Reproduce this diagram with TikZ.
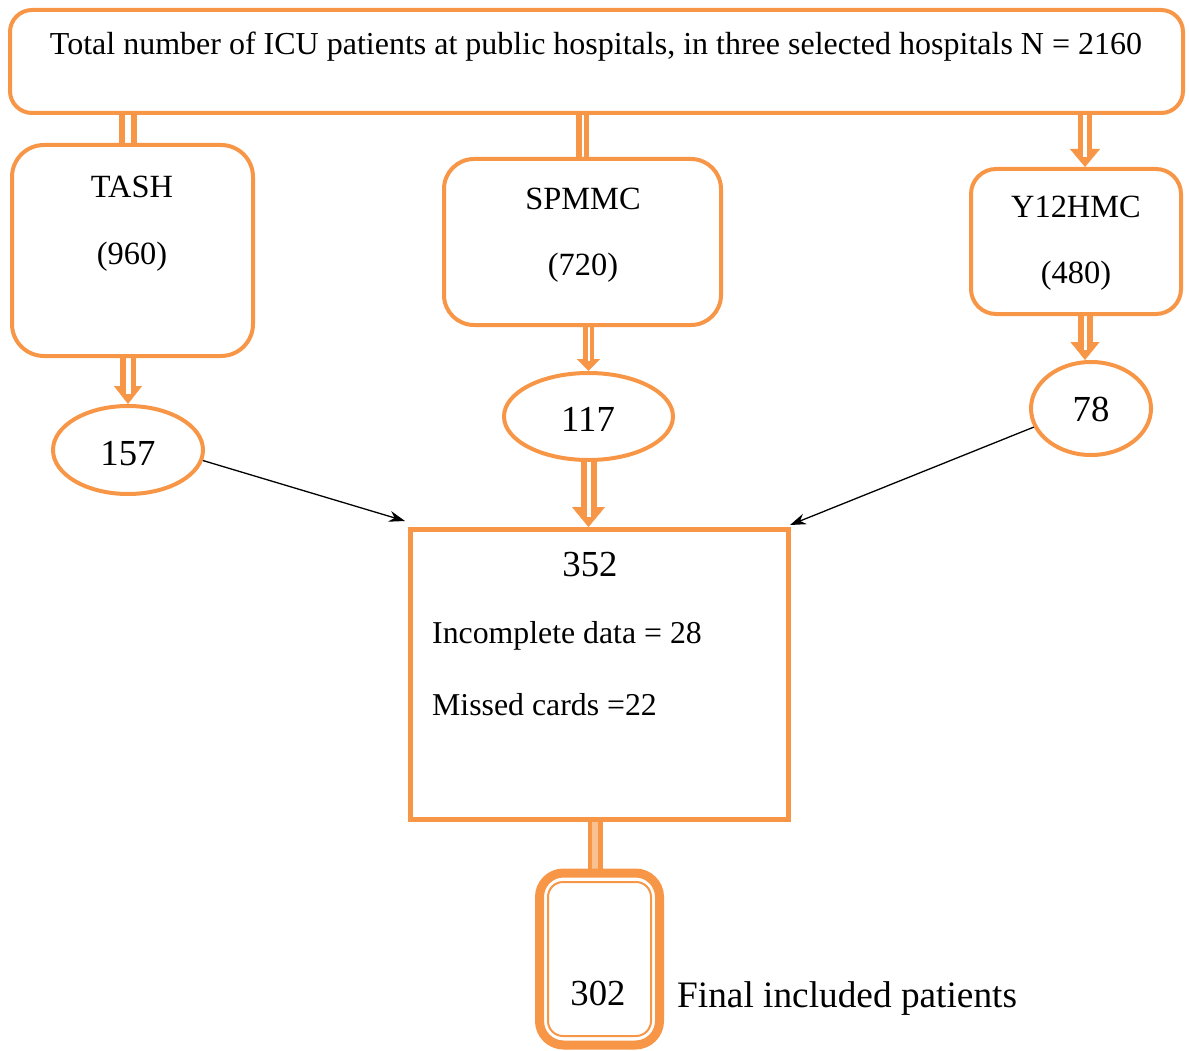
\documentclass[tikz,border=0pt]{standalone}
\usepackage{fontspec}
\setmainfont{Liberation Serif}
\usetikzlibrary{shapes.geometric,arrows.meta,backgrounds,calc}
\definecolor{ora}{HTML}{F79646}
\definecolor{oralight}{HTML}{FAC08F}
\newcommand\fsTop{\fontsize{32}{36}\selectfont}
\newcommand\fsBox{\fontsize{32.4}{36}\selectfont}
\newcommand\fsNum{\fontsize{36.7}{40}\selectfont}
\newcommand\fsNote{\fontsize{31.8}{35}\selectfont}
\newcommand\fsFinal{\fontsize{37.3}{41}\selectfont}
\begin{document}
\begin{tikzpicture}[x=1pt,y=-1pt,
  rbox/.style={draw=ora, line width=4pt, inner sep=0pt},
  oval/.style={ellipse, draw=ora, line width=4pt, inner sep=0pt},
  txt/.style={inner sep=0pt, text=black},
  conn/.style n args={3}{draw=ora, line width=#1pt,
    postaction={draw=#3, line width=#2pt, -}},
  aconn/.style n args={2}{draw=ora, line width=#1pt,
    postaction={draw=white, line width=#2pt, -, shorten >=10pt}},
  hd/.style n args={2}{-{Triangle[length=#1pt,width=#2pt,line width=0.4pt]}},
  thinarrow/.style={draw=black, line width=1.3pt, -{Stealth[length=16pt,width=11pt]}}
]
\useasboundingbox (0,0) rectangle (1189,1051);

% top box
\node[rbox, rounded corners=22pt, minimum width=1173pt, minimum height=103pt] (top) at (596.5,61.5) {};
\node[txt, font=\fsTop] (toptxt) at (596,47) {Total number of ICU patients at public hospitals, in three selected hospitals N = 2160};

% hospital boxes
\node[rbox, rounded corners=32pt, minimum width=241pt, minimum height=211pt] (tash) at (132.5,250.5) {};
\node[txt, font=\fsBox] (tashname) at (132,187) {TASH};
\node[txt, font=\fsBox] (tashn) at (132,257) {(960)};

\node[rbox, rounded corners=30pt, minimum width=277pt, minimum height=166pt] (spmmc) at (582.5,242) {};
\node[txt, font=\fsBox] (spmmcname) at (583,199) {SPMMC};
\node[txt, font=\fsBox] (spmmcn) at (583,268) {(720)};

\node[rbox, rounded corners=25pt, minimum width=210pt, minimum height=145pt] (y12) at (1076,241.5) {};
\node[txt, font=\fsBox] (y12name) at (1076,207) {Y12HMC};
\node[txt, font=\fsBox] (y12n) at (1076,276) {(480)};

% sample ovals
\node[oval, minimum width=150pt, minimum height=88pt] (e157) at (128,450) {};
\node[txt, font=\fsNum] (t157) at (128,454) {157};
\node[oval, minimum width=169pt, minimum height=87pt] (e117) at (588.5,416.5) {};
\node[txt, font=\fsNum] (t117) at (588,419) {117};
\node[oval, minimum width=120pt, minimum height=93pt] (e78) at (1091,408.5) {};
\node[txt, font=\fsNum] (t78) at (1091,409) {78};

% pooled sample
\node[rbox, line width=5pt, minimum width=378pt, minimum height=290pt] (b352) at (599.5,674.5) {};
\node[txt, font=\fsNum] (t352) at (590,565) {352};
\node[txt, font=\fsNote, anchor=west] (incomp) at (432,636) {Incomplete data = 28};
\node[txt, font=\fsNote, anchor=west] (missed) at (432,705) {Missed cards =22};

% final sample
\node[rbox, line width=9pt, rounded corners=24pt, minimum width=120pt, minimum height=172pt] (b302) at (599.5,959) {};
\node[draw=ora, line width=2pt, rounded corners=15pt, inner sep=0pt, minimum width=103pt, minimum height=154pt] (b302in) at (599.5,959) {};
\node[txt, font=\fsNum] (t302) at (598,993) {302};
\node[txt, font=\fsFinal, anchor=west] (final) at (677,999) {Final included patients};

\coordinate (y12in) at ($(y12.north)+(9,0)$);

% double connectors behind the shapes
\begin{scope}[on background layer]
  \draw[conn={18}{6}{white}] (top.south -| e157.north) -- (e157.north |- tash.north);
  \draw[conn={13}{2}{white}] (top.south -| spmmc.north) -- (spmmc.north);
  \draw[aconn={14}{4}, hd={18}{30}] (top.south -| y12in) -- (y12in);
  \draw[aconn={16}{5}, hd={18}{28}] (e157.north |- tash.south) -- (e157.north);
  \draw[aconn={11}{2}, hd={12}{23}] (spmmc.south -| e117.north) -- (e117.north);
  \draw[aconn={15}{3}, hd={18}{29}] (y12.south -| y12in) -- (y12in |- e78.north);
  \draw[aconn={16}{4}, hd={20}{33}] (e117.south) -- (e117.south |- b352.north);
  \draw[conn={15}{6}{oralight}] (b352.south -| 595,0) -- (b302.north -| 595,0);
\end{scope}

% merging arrows
\draw[thinarrow] (e157.-8) -- ($(b352.north west)+(-3,-6)$);
\draw[thinarrow] (e78.198) -- ($(b352.north east)+(-1,-2)$);
\end{tikzpicture}
\end{document}
